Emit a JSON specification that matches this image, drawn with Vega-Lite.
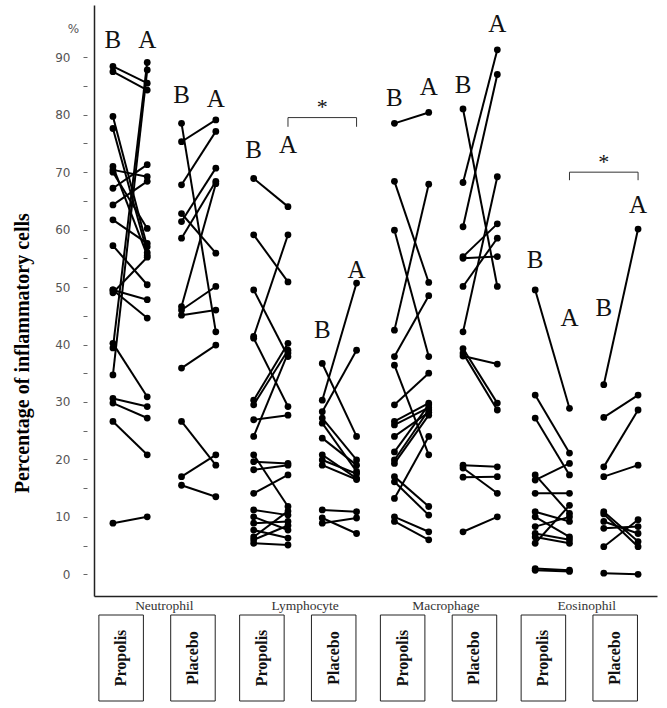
{
  "$schema": "https://vega.github.io/schema/vega-lite/v6.json",
  "padding": {"left": 12, "top": 5, "right": 5, "bottom": 5},
  "background": "white",
  "config": {"view": {"stroke": null}},
  "title": {"text": "Percentage of inflammatory cells", "orient": "left", "anchor": "middle", "frame": "bounds", "font": "Liberation Serif", "fontSize": 20, "fontWeight": "bold", "color": "black", "offset": 22},
  "spacing": 19,
  "bounds": "flush",
  "resolve": {"scale": {"xOffset": "independent"}},
  "datasets": {
    "pts": [
      {"cell":"Neutrophil","id":1,"Propolis B":88.4,"Propolis A":85.5},
      {"cell":"Neutrophil","id":2,"Propolis B":87.5,"Propolis A":84.3},
      {"cell":"Neutrophil","id":3,"Propolis B":79.7,"Propolis A":57.0},
      {"cell":"Neutrophil","id":4,"Propolis B":77.6,"Propolis A":56.0},
      {"cell":"Neutrophil","id":5,"Propolis B":71.0,"Propolis A":55.5},
      {"cell":"Neutrophil","id":6,"Propolis B":70.4,"Propolis A":69.2},
      {"cell":"Neutrophil","id":7,"Propolis B":70.0,"Propolis A":60.2},
      {"cell":"Neutrophil","id":8,"Propolis B":67.2,"Propolis A":71.3},
      {"cell":"Neutrophil","id":9,"Propolis B":64.3,"Propolis A":68.4},
      {"cell":"Neutrophil","id":10,"Propolis B":61.7,"Propolis A":57.6},
      {"cell":"Neutrophil","id":11,"Propolis B":57.2,"Propolis A":50.4},
      {"cell":"Neutrophil","id":12,"Propolis B":49.5,"Propolis A":47.8},
      {"cell":"Neutrophil","id":13,"Propolis B":49.5,"Propolis A":44.6},
      {"cell":"Neutrophil","id":14,"Propolis B":49.0,"Propolis A":55.2},
      {"cell":"Neutrophil","id":15,"Propolis B":40.2,"Propolis A":30.9},
      {"cell":"Neutrophil","id":16,"Propolis B":39.4,"Propolis A":89.1},
      {"cell":"Neutrophil","id":17,"Propolis B":34.7,"Propolis A":87.8},
      {"cell":"Neutrophil","id":18,"Propolis B":30.6,"Propolis A":29.2},
      {"cell":"Neutrophil","id":19,"Propolis B":29.8,"Propolis A":27.2},
      {"cell":"Neutrophil","id":20,"Propolis B":26.6,"Propolis A":20.8},
      {"cell":"Neutrophil","id":21,"Propolis B":8.9,"Propolis A":10.0},
      {"cell":"Neutrophil","id":22,"Placebo B":78.5,"Placebo A":42.2},
      {"cell":"Neutrophil","id":23,"Placebo B":75.3,"Placebo A":79.1},
      {"cell":"Neutrophil","id":24,"Placebo B":67.8,"Placebo A":77.1},
      {"cell":"Neutrophil","id":25,"Placebo B":62.8,"Placebo A":55.9},
      {"cell":"Neutrophil","id":26,"Placebo B":61.4,"Placebo A":70.7},
      {"cell":"Neutrophil","id":27,"Placebo B":58.5,"Placebo A":68.4},
      {"cell":"Neutrophil","id":28,"Placebo B":46.6,"Placebo A":68.0},
      {"cell":"Neutrophil","id":29,"Placebo B":46.0,"Placebo A":50.1},
      {"cell":"Neutrophil","id":30,"Placebo B":45.1,"Placebo A":46.0},
      {"cell":"Neutrophil","id":31,"Placebo B":35.9,"Placebo A":39.9},
      {"cell":"Neutrophil","id":32,"Placebo B":26.6,"Placebo A":19.0},
      {"cell":"Neutrophil","id":33,"Placebo B":17.0,"Placebo A":20.8},
      {"cell":"Neutrophil","id":34,"Placebo B":15.5,"Placebo A":13.5},
      {"cell":"Lymphocyte","id":35,"Propolis B":68.9,"Propolis A":64.0},
      {"cell":"Lymphocyte","id":36,"Propolis B":59.1,"Propolis A":50.9},
      {"cell":"Lymphocyte","id":37,"Propolis B":49.5,"Propolis A":37.9},
      {"cell":"Lymphocyte","id":38,"Propolis B":41.4,"Propolis A":59.1},
      {"cell":"Lymphocyte","id":39,"Propolis B":41.1,"Propolis A":29.2},
      {"cell":"Lymphocyte","id":40,"Propolis B":30.3,"Propolis A":40.2},
      {"cell":"Lymphocyte","id":41,"Propolis B":29.5,"Propolis A":39.0},
      {"cell":"Lymphocyte","id":42,"Propolis B":26.9,"Propolis A":27.7},
      {"cell":"Lymphocyte","id":43,"Propolis B":24.0,"Propolis A":38.5},
      {"cell":"Lymphocyte","id":44,"Propolis B":20.8,"Propolis A":11.8},
      {"cell":"Lymphocyte","id":45,"Propolis B":19.6,"Propolis A":19.3},
      {"cell":"Lymphocyte","id":46,"Propolis B":18.2,"Propolis A":19.0},
      {"cell":"Lymphocyte","id":47,"Propolis B":14.1,"Propolis A":17.3},
      {"cell":"Lymphocyte","id":48,"Propolis B":11.2,"Propolis A":10.3},
      {"cell":"Lymphocyte","id":49,"Propolis B":10.0,"Propolis A":7.7},
      {"cell":"Lymphocyte","id":50,"Propolis B":8.9,"Propolis A":9.2},
      {"cell":"Lymphocyte","id":51,"Propolis B":7.7,"Propolis A":6.3},
      {"cell":"Lymphocyte","id":52,"Propolis B":6.5,"Propolis A":11.0},
      {"cell":"Lymphocyte","id":53,"Propolis B":5.4,"Propolis A":5.1},
      {"cell":"Lymphocyte","id":54,"Propolis B":6.0,"Propolis A":8.5},
      {"cell":"Lymphocyte","id":55,"Placebo B":36.7,"Placebo A":24.0},
      {"cell":"Lymphocyte","id":56,"Placebo B":30.3,"Placebo A":50.7},
      {"cell":"Lymphocyte","id":57,"Placebo B":28.3,"Placebo A":39.0},
      {"cell":"Lymphocyte","id":58,"Placebo B":27.2,"Placebo A":19.9},
      {"cell":"Lymphocyte","id":59,"Placebo B":26.3,"Placebo A":17.9},
      {"cell":"Lymphocyte","id":60,"Placebo B":23.7,"Placebo A":19.0},
      {"cell":"Lymphocyte","id":61,"Placebo B":20.8,"Placebo A":16.7},
      {"cell":"Lymphocyte","id":62,"Placebo B":19.9,"Placebo A":17.5},
      {"cell":"Lymphocyte","id":63,"Placebo B":19.0,"Placebo A":16.5},
      {"cell":"Lymphocyte","id":64,"Placebo B":11.2,"Placebo A":10.9},
      {"cell":"Lymphocyte","id":65,"Placebo B":9.8,"Placebo A":7.1},
      {"cell":"Lymphocyte","id":66,"Placebo B":8.9,"Placebo A":9.8},
      {"cell":"Macrophage","id":67,"Propolis B":78.5,"Propolis A":80.4},
      {"cell":"Macrophage","id":68,"Propolis B":68.4,"Propolis A":50.8},
      {"cell":"Macrophage","id":69,"Propolis B":59.9,"Propolis A":37.9},
      {"cell":"Macrophage","id":70,"Propolis B":42.5,"Propolis A":67.9},
      {"cell":"Macrophage","id":71,"Propolis B":37.9,"Propolis A":48.5},
      {"cell":"Macrophage","id":72,"Propolis B":36.4,"Propolis A":20.8},
      {"cell":"Macrophage","id":73,"Propolis B":29.5,"Propolis A":35.0},
      {"cell":"Macrophage","id":74,"Propolis B":26.6,"Propolis A":29.8},
      {"cell":"Macrophage","id":75,"Propolis B":26.0,"Propolis A":29.0},
      {"cell":"Macrophage","id":76,"Propolis B":24.0,"Propolis A":28.2},
      {"cell":"Macrophage","id":77,"Propolis B":21.3,"Propolis A":29.5},
      {"cell":"Macrophage","id":78,"Propolis B":19.9,"Propolis A":28.6},
      {"cell":"Macrophage","id":79,"Propolis B":19.3,"Propolis A":27.7},
      {"cell":"Macrophage","id":80,"Propolis B":17.0,"Propolis A":11.8},
      {"cell":"Macrophage","id":81,"Propolis B":16.1,"Propolis A":10.3},
      {"cell":"Macrophage","id":82,"Propolis B":13.2,"Propolis A":24.0},
      {"cell":"Macrophage","id":83,"Propolis B":10.0,"Propolis A":7.4},
      {"cell":"Macrophage","id":84,"Propolis B":9.2,"Propolis A":6.0},
      {"cell":"Macrophage","id":85,"Placebo B":81.0,"Placebo A":50.1},
      {"cell":"Macrophage","id":86,"Placebo B":68.2,"Placebo A":91.3},
      {"cell":"Macrophage","id":87,"Placebo B":60.5,"Placebo A":87.0},
      {"cell":"Macrophage","id":88,"Placebo B":55.3,"Placebo A":61.0},
      {"cell":"Macrophage","id":89,"Placebo B":55.0,"Placebo A":55.3},
      {"cell":"Macrophage","id":90,"Placebo B":50.1,"Placebo A":58.5},
      {"cell":"Macrophage","id":91,"Placebo B":42.2,"Placebo A":69.2},
      {"cell":"Macrophage","id":92,"Placebo B":39.3,"Placebo A":29.8},
      {"cell":"Macrophage","id":93,"Placebo B":38.5,"Placebo A":28.6},
      {"cell":"Macrophage","id":94,"Placebo B":38.0,"Placebo A":36.6},
      {"cell":"Macrophage","id":95,"Placebo B":19.0,"Placebo A":18.7},
      {"cell":"Macrophage","id":96,"Placebo B":18.5,"Placebo A":14.1},
      {"cell":"Macrophage","id":97,"Placebo B":16.9,"Placebo A":17.0},
      {"cell":"Macrophage","id":98,"Placebo B":7.4,"Placebo A":10.0},
      {"cell":"Eosinophil","id":99,"Propolis B":49.5,"Propolis A":28.9},
      {"cell":"Eosinophil","id":100,"Propolis B":31.2,"Propolis A":21.1},
      {"cell":"Eosinophil","id":101,"Propolis B":27.2,"Propolis A":17.3},
      {"cell":"Eosinophil","id":102,"Propolis B":17.3,"Propolis A":10.6},
      {"cell":"Eosinophil","id":103,"Propolis B":16.4,"Propolis A":19.3},
      {"cell":"Eosinophil","id":104,"Propolis B":14.1,"Propolis A":14.1},
      {"cell":"Eosinophil","id":105,"Propolis B":10.9,"Propolis A":9.2},
      {"cell":"Eosinophil","id":106,"Propolis B":10.0,"Propolis A":6.5},
      {"cell":"Eosinophil","id":107,"Propolis B":8.3,"Propolis A":10.0},
      {"cell":"Eosinophil","id":108,"Propolis B":7.1,"Propolis A":6.0},
      {"cell":"Eosinophil","id":109,"Propolis B":6.5,"Propolis A":5.4},
      {"cell":"Eosinophil","id":110,"Propolis B":5.4,"Propolis A":12.0},
      {"cell":"Eosinophil","id":111,"Propolis B":1.0,"Propolis A":0.7},
      {"cell":"Eosinophil","id":112,"Propolis B":0.7,"Propolis A":0.5},
      {"cell":"Eosinophil","id":113,"Placebo B":33.0,"Placebo A":60.1},
      {"cell":"Eosinophil","id":114,"Placebo B":27.3,"Placebo A":31.2},
      {"cell":"Eosinophil","id":115,"Placebo B":18.7,"Placebo A":28.6},
      {"cell":"Eosinophil","id":116,"Placebo B":17.0,"Placebo A":19.0},
      {"cell":"Eosinophil","id":117,"Placebo B":10.9,"Placebo A":5.7},
      {"cell":"Eosinophil","id":118,"Placebo B":10.5,"Placebo A":4.8},
      {"cell":"Eosinophil","id":119,"Placebo B":9.2,"Placebo A":7.1},
      {"cell":"Eosinophil","id":120,"Placebo B":8.0,"Placebo A":8.3},
      {"cell":"Eosinophil","id":121,"Placebo B":4.8,"Placebo A":9.5},
      {"cell":"Eosinophil","id":122,"Placebo B":0.2,"Placebo A":0.0}
    ],
    "letters": [
      {"cell":"Neutrophil","key":"Propolis B","t":"B","v":93.0},
      {"cell":"Neutrophil","key":"Propolis A","t":"A","v":93.0},
      {"cell":"Neutrophil","key":"Placebo B","t":"B","v":83.4},
      {"cell":"Neutrophil","key":"Placebo A","t":"A","v":82.8},
      {"cell":"Lymphocyte","key":"Propolis B","t":"B","v":73.9},
      {"cell":"Lymphocyte","key":"Propolis A","t":"A","v":74.7},
      {"cell":"Lymphocyte","key":"Placebo B","t":"B","v":42.5},
      {"cell":"Lymphocyte","key":"Placebo A","t":"A","v":53.0},
      {"cell":"Macrophage","key":"Propolis B","t":"B","v":82.9},
      {"cell":"Macrophage","key":"Propolis A","t":"A","v":84.9},
      {"cell":"Macrophage","key":"Placebo B","t":"B","v":85.2},
      {"cell":"Macrophage","key":"Placebo A","t":"A","v":95.8},
      {"cell":"Eosinophil","key":"Propolis B","t":"B","v":54.7},
      {"cell":"Eosinophil","key":"Propolis A","t":"A","v":44.6},
      {"cell":"Eosinophil","key":"Placebo B","t":"B","v":46.4},
      {"cell":"Eosinophil","key":"Placebo A","t":"A","v":64.3}
    ],
    "stars": [
      {"cell":"Lymphocyte","key":"Placebo B","t":"*","v":81.3},
      {"cell":"Eosinophil","key":"Placebo B","t":"*","v":71.7}
    ],
    "brackets": [
      {"cell":"Lymphocyte","key":"Propolis A","v":77.9,"o":1},
      {"cell":"Lymphocyte","key":"Propolis A","v":79.5,"o":2},
      {"cell":"Lymphocyte","key":"Placebo A","v":79.5,"o":3},
      {"cell":"Lymphocyte","key":"Placebo A","v":77.9,"o":4},
      {"cell":"Eosinophil","key":"Propolis A","v":68.6,"o":1},
      {"cell":"Eosinophil","key":"Propolis A","v":70.0,"o":2},
      {"cell":"Eosinophil","key":"Placebo A","v":70.0,"o":3},
      {"cell":"Eosinophil","key":"Placebo A","v":68.6,"o":4}
    ],
    "boxes": [
      {"cell":"Neutrophil","arm":"Propolis"},
      {"cell":"Neutrophil","arm":"Placebo"},
      {"cell":"Lymphocyte","arm":"Propolis"},
      {"cell":"Lymphocyte","arm":"Placebo"},
      {"cell":"Macrophage","arm":"Propolis"},
      {"cell":"Macrophage","arm":"Placebo"},
      {"cell":"Eosinophil","arm":"Propolis"},
      {"cell":"Eosinophil","arm":"Placebo"}
    ]
  },
  "vconcat": [
    {
      "width": 563,
      "height": 591,
      "encoding": {
        "x": {
          "field": "cell", "type": "nominal",
          "scale": {"type": "band", "domain": ["Neutrophil","Lymphocyte","Macrophage","Eosinophil"], "paddingInner": 0, "paddingOuter": 0},
          "axis": {"title": null, "ticks": false, "labelAngle": 0, "labelFont": "Liberation Serif", "labelFontSize": 13.5, "labelColor": "#333", "labelPadding": 2, "domainColor": "#222", "domainWidth": 1.5}
        },
        "xOffset": {
          "field": "key", "type": "nominal",
          "scale": {"type": "point", "domain": ["Propolis B","Propolis A","Placebo B","Placebo A"], "padding": 0.552}
        },
        "y": {
          "field": "v", "type": "quantitative",
          "scale": {"domain": [-3.78, 99.1], "nice": false, "zero": false},
          "axis": {
            "title": "%", "titleAngle": 0, "titleX": -21, "titleY": 23, "titleAlign": "center", "titleBaseline": "middle",
            "titleFont": "DejaVu Sans", "titleFontSize": 12, "titleFontWeight": "normal", "titleColor": "#555",
            "values": [0,5,10,15,20,25,30,35,40,45,50,55,60,65,70,75,80,85,90],
            "labelExpr": "datum.value % 10 === 0 ? datum.label : ''",
            "labelFont": "DejaVu Sans", "labelFontSize": 12, "labelColor": "#555", "labelPadding": 13,
            "tickSize": 11, "tickDash": [0, 7, 4, 100], "tickColor": "#666", "tickWidth": 1,
            "domainColor": "#222", "domainWidth": 1.5, "grid": false
          }
        }
      },
      "layer": [
        {
          "data": {"name": "pts"},
          "transform": [
            {"fold": ["Propolis B","Propolis A","Placebo B","Placebo A"], "as": ["key","v"]},
            {"filter": "isValid(datum.v)"}
          ],
          "mark": {"type": "line", "color": "black", "strokeWidth": 2},
          "encoding": {"detail": {"field": "id"}}
        },
        {
          "data": {"name": "pts"},
          "transform": [
            {"fold": ["Propolis B","Propolis A","Placebo B","Placebo A"], "as": ["key","v"]},
            {"filter": "isValid(datum.v)"}
          ],
          "mark": {"type": "point", "filled": true, "color": "black", "size": 46, "opacity": 1}
        },
        {
          "data": {"name": "letters"},
          "mark": {"type": "text", "font": "Liberation Serif", "fontSize": 25, "color": "#111", "baseline": "middle", "align": "center"},
          "encoding": {"text": {"field": "t"}}
        },
        {
          "data": {"name": "stars"},
          "mark": {"type": "text", "font": "Liberation Serif", "fontSize": 22, "color": "#111", "baseline": "middle", "align": "center"},
          "encoding": {"text": {"field": "t"}}
        },
        {
          "data": {"name": "brackets"},
          "mark": {"type": "line", "color": "#333", "strokeWidth": 1},
          "encoding": {"detail": {"field": "cell"}, "order": {"field": "o"}}
        }
      ]
    },
    {
      "width": 563,
      "height": 86,
      "data": {"name": "boxes"},
      "encoding": {
        "x": {
          "field": "cell", "type": "nominal", "axis": null,
          "scale": {"type": "band", "domain": ["Neutrophil","Lymphocyte","Macrophage","Eosinophil"], "paddingInner": 0, "paddingOuter": 0}
        },
        "xOffset": {
          "field": "arm", "type": "nominal",
          "scale": {"type": "band", "domain": ["Propolis","Placebo"], "paddingInner": 0.38, "paddingOuter": 0.17, "align": 0.2}
        }
      },
      "layer": [
        {
          "mark": {"type": "bar", "fill": "white", "stroke": "#222", "strokeWidth": 1},
          "encoding": {
            "y": {"datum": 0, "type": "quantitative", "scale": {"domain": [0, 1]}, "axis": null},
            "y2": {"datum": 1}
          }
        },
        {
          "mark": {"type": "text", "font": "Liberation Serif", "fontSize": 16, "fontWeight": "bold", "color": "#111", "angle": 270, "baseline": "middle", "align": "center"},
          "encoding": {
            "y": {"datum": 0.5, "type": "quantitative", "scale": {"domain": [0, 1]}, "axis": null},
            "text": {"field": "arm"}
          }
        }
      ]
    }
  ]
}
